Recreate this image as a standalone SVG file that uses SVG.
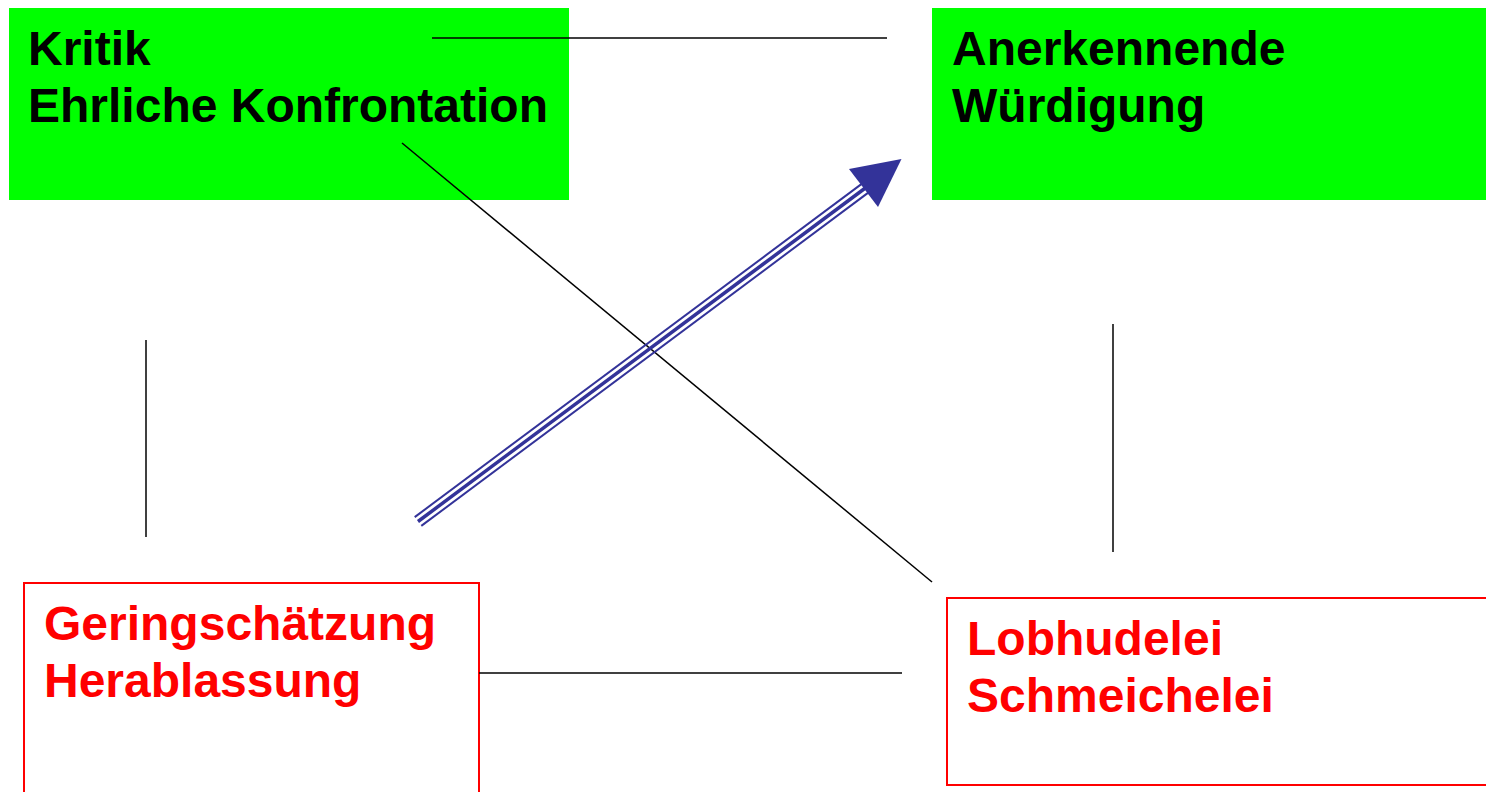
<svg xmlns="http://www.w3.org/2000/svg" width="1486" height="792" viewBox="0 0 1486 792">
<style>
.lbl{font-family:"Liberation Sans",Arial,sans-serif;font-weight:bold;font-size:48px}
.pos rect{fill:#00ff00;stroke:none}
.pos text{fill:#000}
.neg rect{fill:#fff;stroke:#ff0000;stroke-width:2}
.neg text{fill:#ff0000}
.conn line{stroke:#000;stroke-width:1.5}
.arr line{stroke:#333399}
</style>
<rect width="1486" height="792" fill="#fff"/>
<g id="kritik" class="pos">
<rect x="9" y="8" width="560" height="192"/>
<text class="lbl" x="28" y="65">Kritik</text>
<text class="lbl" x="28" y="122">Ehrliche Konfrontation</text>
</g>
<g id="wuerdigung" class="pos">
<rect x="932" y="8" width="554" height="192"/>
<text class="lbl" x="952" y="65">Anerkennende</text>
<text class="lbl" x="952" y="122">Würdigung</text>
</g>
<g id="geringschaetzung" class="neg">
<rect x="24" y="583" width="455" height="230"/>
<text class="lbl" x="44" y="640">Geringschätzung</text>
<text class="lbl" x="44" y="697">Herablassung</text>
</g>
<g id="lobhudelei" class="neg">
<rect x="947" y="598" width="545" height="187"/>
<text class="lbl" x="967" y="655">Lobhudelei</text>
<text class="lbl" x="967" y="712">Schmeichelei</text>
</g>
<g id="connectors">
<g class="conn">
<line x1="432" y1="38" x2="887" y2="38"/>
<line x1="402" y1="143" x2="932" y2="582"/>
<line x1="146" y1="340" x2="146" y2="537"/>
<line x1="1113" y1="324" x2="1113" y2="552"/>
<line x1="479" y1="673" x2="902" y2="673"/>
</g>
<g class="arr">
<line x1="418" y1="521.5" x2="866" y2="187.5" stroke-width="3.5"/>
<line x1="414.7" y1="517.1" x2="862.7" y2="183.1" stroke-width="2"/>
<line x1="421.3" y1="525.9" x2="869.3" y2="191.9" stroke-width="2"/>
<polygon points="901.5,159 849,169 878,207" fill="#333399"/>
</g>
</g>
</svg>
